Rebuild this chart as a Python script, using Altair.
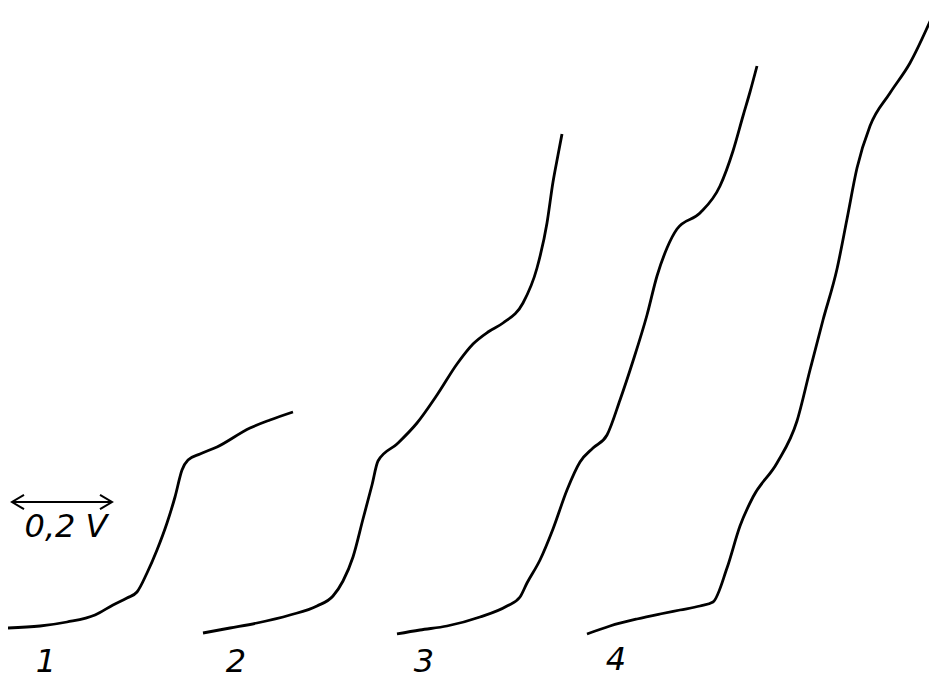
import altair as alt
import pandas as pd

# Curve traces (pixel-like units; y grows downward)
curve1_x = [8, 40, 67, 95, 113, 127, 137, 147, 157, 167, 175, 182, 188, 200, 217, 250, 270, 293]
curve1_y = [628, 626, 622, 615, 605, 598, 592, 573, 550, 523, 497, 470, 460, 454, 447, 428, 420, 412]

curve2_x = [203, 230, 257, 290, 317, 333, 343, 353, 363, 372, 378, 397, 417, 437, 457, 473, 488, 503, 523, 537, 547, 553, 558, 562]
curve2_y = [633, 628, 623, 615, 606, 596, 581, 557, 519, 485, 461, 444, 423, 395, 364, 344, 332, 323, 303, 268, 223, 182, 155, 134]

curve3_x = [397, 420, 447, 480, 507, 520, 527, 540, 553, 567, 580, 593, 607, 620, 633, 647, 657, 667, 677, 700, 720, 733, 743, 750, 757]
curve3_y = [634, 630, 626, 617, 606, 597, 583, 560, 529, 490, 462, 448, 435, 400, 361, 315, 276, 248, 229, 213, 186, 151, 116, 92, 66]

curve4_x = [587, 610, 637, 660, 680, 700, 713, 727, 740, 753, 777, 797, 810, 823, 837, 847, 857, 870, 890, 910, 932]
curve4_y = [634, 626, 619, 614, 610, 606, 602, 568, 526, 497, 463, 421, 370, 320, 269, 219, 168, 126, 93, 63, 17]

curve_names = ["1", "2", "3", "4"]

label_text = ["1", "2", "3", "4"]
label_x = [46, 236, 424, 616]
label_y = [672, 672, 672, 670]

scale_text = ["0,2 V"]
scale_x = [66]
scale_y = [527]

arrow_x = [12]
arrow_x2 = [112]
arrow_y = [502]

rows = []
for name, xs, ys in zip(curve_names, [curve1_x, curve2_x, curve3_x, curve4_x],
                        [curve1_y, curve2_y, curve3_y, curve4_y]):
    for i, (x, y) in enumerate(zip(xs, ys)):
        rows.append({"curve": name, "x": x, "y": y, "i": i})
df = pd.DataFrame(rows)

labels = pd.DataFrame({"t": label_text, "x": label_x, "y": label_y})
scale_df = pd.DataFrame({"t": scale_text, "x": scale_x, "y": scale_y})
arrow_df = pd.DataFrame({"x": arrow_x, "x2": arrow_x2, "y": arrow_y})
heads_df = pd.DataFrame({"x": [arrow_x[0], arrow_x2[0]], "y": [arrow_y[0], arrow_y[0]], "side": ["L", "R"]})

xs = alt.Scale(domain=[8, 929], nice=False, zero=False)
ys = alt.Scale(domain=[8, 680], nice=False, zero=False, reverse=True)
X = lambda f: alt.X(f, type="quantitative", scale=xs, axis=None)
Y = lambda f: alt.Y(f, type="quantitative", scale=ys, axis=None)

lines = alt.Chart(df).mark_line(color="black", strokeWidth=2.8, interpolate="monotone", clip=False).encode(
    x=X("x"), y=Y("y"), detail="curve:N", order="i:Q"
)

num_text = alt.Chart(labels).mark_text(
    font="DejaVu Sans", fontStyle="italic", fontSize=32, color="black",
    align="center", baseline="alphabetic"
).encode(x=X("x"), y=Y("y"), text="t:N")

sc_text = alt.Chart(scale_df).mark_text(
    font="DejaVu Sans", fontStyle="italic", fontSize=32, color="black",
    align="center", baseline="middle"
).encode(x=X("x"), y=Y("y"), text="t:N")

shaft = alt.Chart(arrow_df).mark_rule(color="black", strokeWidth=2).encode(
    x=X("x"), x2="x2:Q", y=Y("y")
)

left_head = alt.Chart(heads_df).transform_filter(alt.datum.side == "L").mark_point(
    shape="M1,-0.6L0,0L1,0.6", size=576, filled=False, color="black", strokeWidth=2, opacity=1
).encode(x=X("x"), y=Y("y"))

right_head = alt.Chart(heads_df).transform_filter(alt.datum.side == "R").mark_point(
    shape="M-1,-0.6L0,0L-1,0.6", size=576, filled=False, color="black", strokeWidth=2, opacity=1
).encode(x=X("x"), y=Y("y"))

chart = alt.layer(lines, num_text, sc_text, shaft, left_head, right_head).properties(
    width=921, height=672, autosize=alt.AutoSizeParams(type="none"), padding=0,
    background="white"
).configure_view(stroke=None)

chart.save("out.html", embed_options={"renderer": "svg", "actions": False})
